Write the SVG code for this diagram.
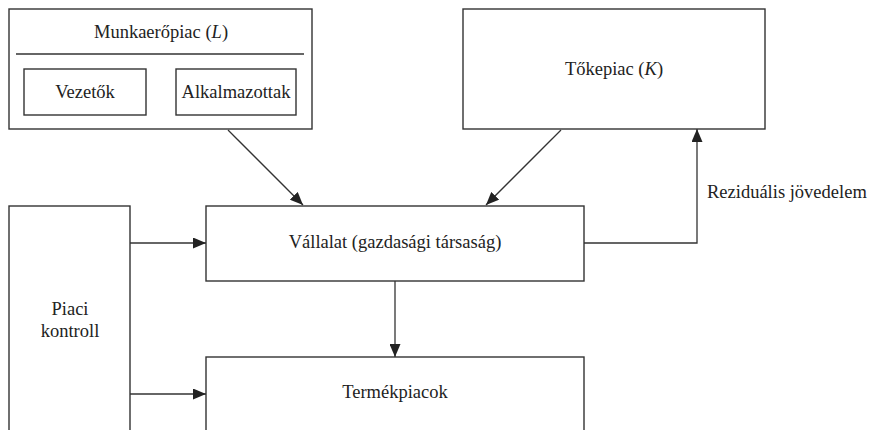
<svg xmlns="http://www.w3.org/2000/svg" width="874" height="430" viewBox="0 0 874 430">
<defs>
<style>
.box{fill:#fff;stroke:#333;stroke-width:1.4}
.ln{fill:none;stroke:#333;stroke-width:1.3}
.t{font-family:"Liberation Serif","Times New Roman",serif;font-size:18.5px;fill:#222;text-anchor:middle}
.ts{text-anchor:start}
</style>
<marker id="ah" markerUnits="userSpaceOnUse" markerWidth="13" markerHeight="11" refX="13" refY="5.5" orient="auto" viewBox="0 0 13 11">
<path d="M0,0 L13,5.5 L0,11 z" fill="#222"/>
</marker>
</defs>
<rect width="874" height="430" fill="#fff"/>
<g id="munkaeropiac">
<rect class="box" x="9" y="9" width="303" height="120"/>
<line class="ln" x1="16" y1="54" x2="304" y2="54"/>
<text class="t" x="161" y="38">Munkaerőpiac (<tspan font-style="italic">L</tspan>)</text>
</g>
<g id="vezetok">
<rect class="box" x="24" y="69" width="122" height="46"/>
<text class="t" x="85" y="98">Vezetők</text>
</g>
<g id="alkalmazottak">
<rect class="box" x="176" y="69" width="120" height="46"/>
<text class="t" x="236" y="98">Alkalmazottak</text>
</g>
<g id="tokepiac">
<rect class="box" x="463" y="9" width="302" height="120"/>
<text class="t" x="614" y="75">Tőkepiac (<tspan font-style="italic">K</tspan>)</text>
</g>
<g id="vallalat">
<rect class="box" x="206" y="206" width="378" height="75"/>
<text class="t" x="395" y="248">Vállalat (gazdasági társaság)</text>
</g>
<g id="termekpiacok">
<rect class="box" x="206" y="357" width="378" height="90"/>
<text class="t" x="395" y="398">Termékpiacok</text>
</g>
<g id="piaci-kontroll">
<rect class="box" x="9" y="206" width="121" height="240"/>
<text class="t" x="70" y="315">Piaci</text>
<text class="t" x="70" y="337">kontroll</text>
</g>
<g id="connectors">
<line class="ln" x1="228" y1="130" x2="303" y2="205" marker-end="url(#ah)"/>
<line class="ln" x1="561" y1="130" x2="486" y2="205" marker-end="url(#ah)"/>
<line class="ln" x1="130" y1="243" x2="206" y2="243" marker-end="url(#ah)"/>
<line class="ln" x1="130" y1="394" x2="206" y2="394" marker-end="url(#ah)"/>
<line class="ln" x1="395" y1="281" x2="395" y2="357" marker-end="url(#ah)"/>
<polyline class="ln" points="584,243 697,243 697,129" marker-end="url(#ah)"/>
<text class="t ts" x="707" y="198">Reziduális jövedelem</text>
</g>
</svg>
